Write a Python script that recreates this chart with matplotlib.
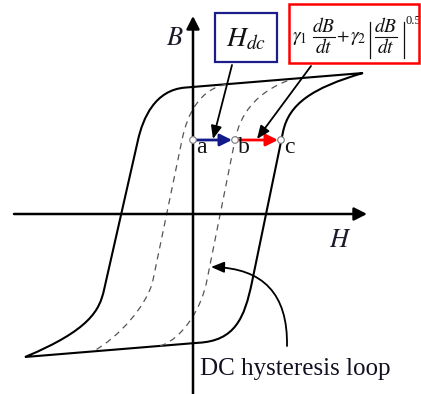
import matplotlib
matplotlib.use("Agg")
import matplotlib.pyplot as plt
from matplotlib.path import Path
from matplotlib.patches import PathPatch, FancyArrowPatch, Rectangle, Circle

plt.rcParams['mathtext.fontset'] = 'stix'
plt.rcParams['font.family'] = ['Liberation Serif', 'DejaVu Serif']

# ---- data (diagram geometry, pixel space of the reference) ----
# outer (dynamic) loop: top line, upper-left knee, left branch, lower-left knee,
# bottom line, lower-right knee, right branch, upper-right knee
outer_x = [363, 185, 155, 143, 138, 104, 99.5, 90, 25, 198, 235, 244.5, 252, 283, 288.8, 312, 363]
outer_y = [73, 87.6, 90, 118, 140, 290, 310, 330, 357, 342.8, 341, 318, 282, 132, 104, 88, 73]
outer_codes = ['M', 'L', 'C', 'C', 'C', 'L', 'C', 'C', 'C', 'L', 'C', 'C', 'C', 'L', 'C', 'C', 'C']

# DC loop (dashed), descending and ascending branches
dc_down_x = [226, 200, 187.8, 182, 153, 147.8, 118, 93]
dc_down_y = [84.2, 90, 112, 140, 280, 305, 338, 351.4]
dc_up_x = [160, 180, 201, 207, 235, 240, 255, 292]
dc_up_y = [346, 340, 312, 280, 140, 115, 92, 79]
dc_codes = ['M', 'C', 'C', 'C', 'L', 'C', 'C', 'C']

# points a, b, c on the H-shift line
pt_names = ['a', 'b', 'c']
pt_x = [193, 235, 281]
pt_y = [140, 140, 140]

# axes
origin = (193, 214)
h_axis = (14, 367)
b_axis = (394, 16)

fig = plt.figure(figsize=(4.21, 3.94), dpi=100)
ax = fig.add_axes([0, 0, 1, 1])
ax.set_xlim(0, 421)
ax.set_ylim(394, 0)
ax.axis('off')

code_map = {'M': Path.MOVETO, 'L': Path.LINETO, 'C': Path.CURVE4}


def make_path(xs, ys, codes, close=False):
    verts = list(zip(xs, ys))
    cds = [code_map[c] for c in codes]
    if close:
        verts.append(verts[0])
        cds.append(Path.CLOSEPOLY)
    return Path(verts, cds)


# axes with arrow heads
ax.add_patch(FancyArrowPatch((origin[0], b_axis[0]), (origin[0], b_axis[1]),
                             arrowstyle='-|>,head_length=0.55,head_width=0.28',
                             mutation_scale=14, lw=1.8, color='black',
                             shrinkA=0, shrinkB=0, zorder=3))
ax.add_patch(FancyArrowPatch((h_axis[0], origin[1]), (h_axis[1], origin[1]),
                             arrowstyle='-|>,head_length=0.55,head_width=0.28',
                             mutation_scale=14, lw=1.8, color='black',
                             shrinkA=0, shrinkB=0, zorder=3))

# loops
ax.add_patch(PathPatch(make_path(outer_x, outer_y, outer_codes, close=True),
                       fill=False, lw=1.5, ec='black', joinstyle='miter', zorder=2))
for xs, ys in [(dc_down_x, dc_down_y), (dc_up_x, dc_up_y)]:
    ax.add_patch(PathPatch(make_path(xs, ys, dc_codes), fill=False, lw=0.9,
                           ec='#555555', linestyle=(0, (5, 4)), zorder=2))

# horizontal shift arrows a->b (blue), b->c (red)
ax.add_patch(FancyArrowPatch((pt_x[0], pt_y[0]), (pt_x[1] - 3, pt_y[1]),
                             arrowstyle='-|>,head_length=0.6,head_width=0.3',
                             mutation_scale=12, lw=2.0, color='#121a8c',
                             shrinkA=0, shrinkB=0, zorder=4))
ax.add_patch(FancyArrowPatch((pt_x[1], pt_y[1]), (pt_x[2] - 3, pt_y[2]),
                             arrowstyle='-|>,head_length=0.6,head_width=0.3',
                             mutation_scale=12, lw=2.0, color='#ff0000',
                             shrinkA=0, shrinkB=0, zorder=4))
for x, y in zip(pt_x, pt_y):
    ax.add_patch(Circle((x, y), 3.3, fc='white', ec='#7a7a7a', lw=0.8, zorder=5))
for name, x, y in zip(pt_names, pt_x, pt_y):
    ax.text(x + 3, y + 13, name, fontsize=17, ha='left', va='baseline',
            color='#111111', zorder=6)

# axis labels
ax.text(166, 45, '$B$', fontsize=19, ha='left', va='baseline', color='#1a1a2a')
ax.text(329, 247, '$H$', fontsize=19, ha='left', va='baseline', color='#1a1a2a')

# boxes
ax.add_patch(Rectangle((215, 13), 62, 49, fill=False, ec='#1c1c8a', lw=1.6, zorder=4))
ax.text(246, 46, '$H_{dc}$', fontsize=20, ha='center', va='baseline', color='#111111')
ax.add_patch(Rectangle((289, 4), 130, 59, fill=False, ec='#ff0000', lw=1.8, zorder=4))

# formula  gamma1 dB/dt + gamma2 |dB/dt|^0.5 (composed piecewise)
fs_f = 14
tc = '#111111'
ax.text(292, 41, r'$\gamma_1$', fontsize=fs_f, ha='left', va='baseline', color=tc)
for cx in (324, 386):
    ax.text(cx, 32, r'$dB$', fontsize=fs_f, ha='center', va='baseline', color=tc)
    ax.plot([cx - 11, cx + 11], [36.5, 36.5], color=tc, lw=0.8)
    ax.text(cx, 53, r'$dt$', fontsize=fs_f, ha='center', va='baseline', color=tc)
ax.text(342.5, 37, r'$+$', fontsize=13, ha='center', va='center', color=tc)
ax.text(350.5, 41, r'$\gamma_2$', fontsize=fs_f, ha='left', va='baseline', color=tc)
for bx in (369.5, 403.5):
    ax.plot([bx, bx], [22, 58], color=tc, lw=0.9)
ax.text(406, 24, '0.5', fontsize=9, ha='left', va='baseline', color=tc)

# pointer arrows from boxes
ax.add_patch(FancyArrowPatch((232, 65), (213, 139),
                             arrowstyle='-|>,head_length=0.6,head_width=0.25',
                             mutation_scale=13, lw=1.3, color='black',
                             shrinkA=0, shrinkB=0, zorder=4))
ax.add_patch(FancyArrowPatch((311, 66), (257, 139),
                             arrowstyle='-|>,head_length=0.6,head_width=0.25',
                             mutation_scale=13, lw=1.3, color='black',
                             shrinkA=0, shrinkB=0, zorder=4))

# DC hysteresis loop label and curved arrow
ax.add_patch(FancyArrowPatch((287, 346), (211, 267), connectionstyle='arc3,rad=0.5',
                             arrowstyle='-|>,head_length=0.6,head_width=0.25',
                             mutation_scale=13, lw=1.3, color='black',
                             shrinkA=0, shrinkB=0, zorder=4))
ax.text(200, 375, 'DC hysteresis loop', fontsize=18, ha='left', va='baseline',
        color='#111122')

fig.savefig('out.png', dpi=100)
